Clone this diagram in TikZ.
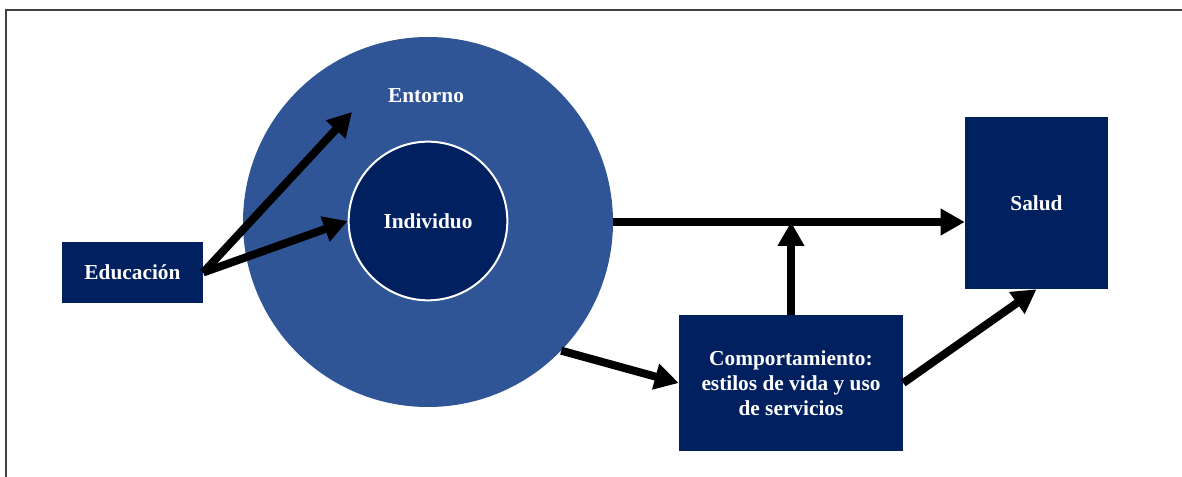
\documentclass[tikz,border=0pt]{standalone}
\usepackage{fontspec}
\setmainfont{Liberation Serif}
\usepackage{tikz}
\usetikzlibrary{calc}
\usetikzlibrary{shapes}
\usetikzlibrary{arrows.meta}
\definecolor{entblue}{RGB}{47,85,151}
\definecolor{navy}{RGB}{0,32,96}
\newcommand{\rotulo}{\fontsize{16}{18.75}\selectfont\bfseries\color{white}}
\tikzset{
    caja/.style={fill=navy, inner sep=0pt, align=center, font=\rotulo},
    flecha/.style={line width=6pt, -{Triangle[length=18pt,width=19pt]}}
}

\begin{document}
\begin{tikzpicture}[x=0.75pt, y=-0.75pt]
        \useasboundingbox (0,0) rectangle (1182,477);
        \draw[line width=1.5pt, black!75] (6,477) -- (6,10) -- (1182,10);
        %circles
        \node[circle, fill=entblue, minimum size=277.5pt] (entorno) at (428,222) {};
        \node[circle, fill=navy, draw=white, line width=1.5pt, minimum size=119pt, font=\rotulo] (indiv) at (428,221) {Individuo};
        \node[font=\rotulo] (entlbl) at (426,96) {Entorno};
        %boxes
        \node[caja, minimum width=105.75pt, minimum height=45.75pt] (edu) at (132.5,272.5) {Educación};
        \node[caja, minimum width=107.25pt, minimum height=129pt] (salud) at (1036.5,203) {Salud};
        \node[caja, minimum width=168pt, minimum height=102pt] (comp) at (791,383) {Comportamiento:\\estilos de vida y uso\\de servicios};
        \coordinate (entp) at (352,112);

        \draw[flecha] (edu.east) -- (entp);
        \draw[flecha] (edu.east) -- (indiv.west);
        \draw[flecha] (entorno.east) -- (entorno.east -| salud.west);
        \draw[flecha] (comp.north) -- (comp.north |- entorno.east);
        \draw[flecha] (entorno.-44) -- (comp.west);
        \draw[flecha] (comp.east) -- (salud.south);
    \end{tikzpicture}
\end{document}
